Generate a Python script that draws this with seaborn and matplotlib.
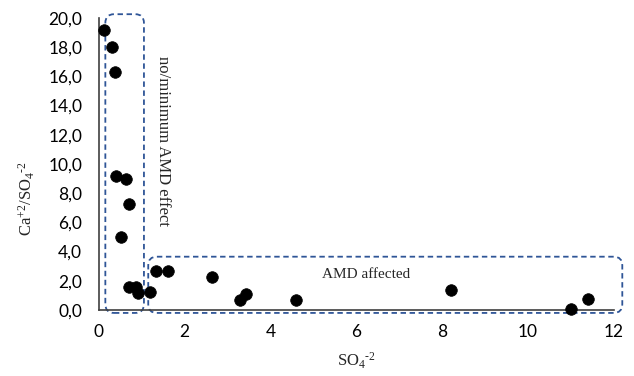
import matplotlib
matplotlib.use("Agg")
import matplotlib.pyplot as plt
import seaborn as sns
import pandas as pd
from matplotlib.patches import FancyBboxPatch
from matplotlib.ticker import FuncFormatter

so4 = [0.12, 0.3, 0.37, 0.4, 0.63, 0.7, 0.51, 0.7, 0.86, 0.9, 1.2, 1.33, 1.6, 2.63, 3.3, 3.43, 4.6, 8.2, 11.0, 11.4]
ratio = [19.2, 18.0, 16.3, 9.2, 8.95, 7.25, 5.0, 1.6, 1.6, 1.15, 1.2, 2.7, 2.7, 2.25, 0.7, 1.1, 0.7, 1.35, 0.05, 0.75]
xticks = [0, 2, 4, 6, 8, 10, 12]
yticks = [0, 2, 4, 6, 8, 10, 12, 14, 16, 18, 20]

df = pd.DataFrame({"so4": so4, "ratio": ratio})

sns.set_style("white")
plt.rcParams['font.family'] = ['Lato', 'DejaVu Sans']
plt.rcParams['mathtext.fontset'] = 'custom'
plt.rcParams['mathtext.rm'] = 'Liberation Serif'
plt.rcParams['mathtext.it'] = 'Liberation Serif:italic'

fig = plt.figure(figsize=(6.34, 3.76), dpi=100)
ax = fig.add_axes([0.156, 0.1755, 0.812, 0.777])
sns.scatterplot(data=df, x="so4", y="ratio", ax=ax, color="black", s=70, edgecolor="black", linewidth=0.5, zorder=3, clip_on=False)

ax.set_xlim(0, 12)
ax.set_ylim(0, 20)
ax.set_xticks(xticks)
ax.set_yticks(yticks)
ax.yaxis.set_major_formatter(FuncFormatter(lambda v, p: f"{v:.1f}".replace(".", ",")))
ax.tick_params(axis='y', length=0, labelsize=12.5, pad=12, colors="black")
ax.tick_params(axis='x', length=0, labelsize=12.5, pad=10, colors="black")
for s in ["top", "right"]:
    ax.spines[s].set_visible(False)
for s in ["left", "bottom"]:
    ax.spines[s].set_color("#404040")
    ax.spines[s].set_linewidth(1.2)

hy = "\u2010"
ax.set_xlabel(r"SO$_4$$^{" + hy + r"2}$", fontsize=12, fontfamily="Liberation Serif", labelpad=8)
ax.set_ylabel(r"Ca$^{+2}$/SO$_4$$^{" + hy + r"2}$", fontsize=12, fontfamily="Liberation Serif")
ax.yaxis.set_label_coords(-0.12, 0.383)

box_color = "#2F5597"
b1 = FancyBboxPatch((0.15, -0.2), 0.9, 20.45, boxstyle="round,pad=0,rounding_size=0.2",
                    mutation_aspect=3.0, fill=False, edgecolor=box_color, linestyle=(0, (3, 2)),
                    linewidth=1.3, clip_on=False, zorder=2)
b2 = FancyBboxPatch((1.15, -0.2), 11.05, 3.85, boxstyle="round,pad=0,rounding_size=0.2",
                    mutation_aspect=3.0, fill=False, edgecolor=box_color, linestyle=(0, (3, 2)),
                    linewidth=1.3, clip_on=False, zorder=2)
ax.add_patch(b1)
ax.add_patch(b2)

ax.text(1.5, 11.6, "no/minimum AMD effect", rotation=270, ha="center", va="center",
        fontsize=12, fontfamily="Liberation Serif")
ax.text(6.22, 2.4, "AMD affected", ha="center", va="center", fontsize=11, fontfamily="Liberation Serif")

fig.savefig("out.png", dpi=100)
